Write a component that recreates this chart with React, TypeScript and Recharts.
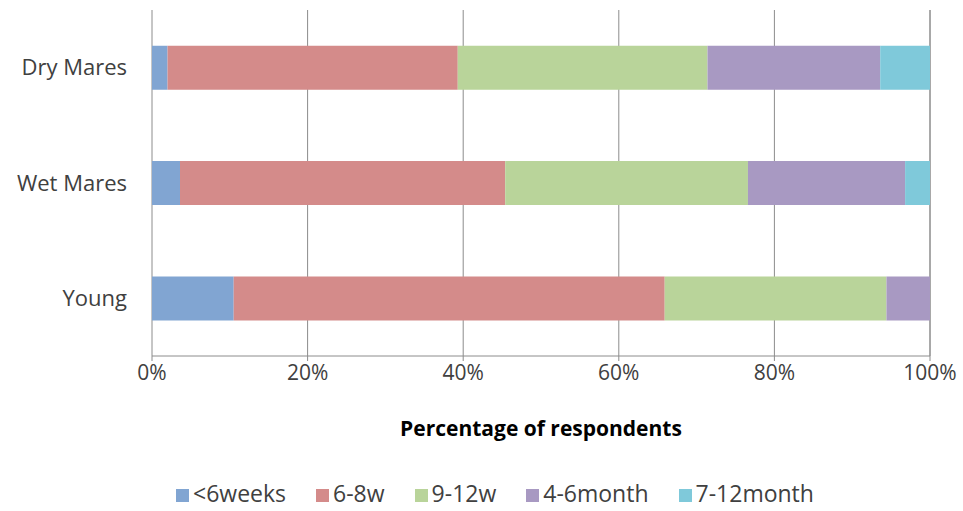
import { BarChart, Bar, XAxis, YAxis, CartesianGrid, Legend, Label } from 'recharts'

// shares per group, in percent
const groups = ['Dry Mares', 'Wet Mares', 'Young']
const under6w = [2.0, 3.6, 10.5]
const w6to8 = [37.3, 41.8, 55.4]
const w9to12 = [32.1, 31.2, 28.5]
const m4to6 = [22.2, 20.2, 5.6]
const m7to12 = [6.4, 3.2, 0]

const seriesNames = ['<6weeks', '6-8w', '9-12w', '4-6month', '7-12month']
const seriesColors = ['#81a5d2', '#d48b8a', '#b9d49a', '#a899c2', '#7fc9da']
const xTicks = [0, 20, 40, 60, 80, 100]
const boundaryTicks = [0, 1, 2, 3]

const data = groups.map((g, i) => ({
  group: g,
  s0: under6w[i],
  s1: w6to8[i],
  s2: w9to12[i],
  s3: m4to6[i],
  s4: m7to12[i],
}))

const font = '"Open Sans", sans-serif'
const axisColor = '#8c8c8c'
const textColor = '#404040'

export default function App() {
  return (
    <div style={{ position: 'absolute', left: 0, top: 0, background: '#fff', fontFamily: font }}>
      <BarChart
        width={963}
        height={511}
        data={data}
        layout="vertical"
        barCategoryGap="31%"
        margin={{ top: 10, right: 33, left: 0, bottom: 2 }}
      >
        <CartesianGrid horizontal={false} stroke={axisColor} />
        <XAxis
          type="number"
          domain={[0, 100]}
          ticks={xTicks}
          tickFormatter={(v: number) => `${v}%`}
          tick={{ fontSize: 21, fill: textColor, fontFamily: font }}
          tickSize={5}
          tickMargin={4}
          axisLine={{ stroke: axisColor }}
          tickLine={{ stroke: axisColor }}
          height={121}
        >
          <Label
            value="Percentage of respondents"
            position="insideTop"
            offset={65}
            style={{ fontSize: 21, fontWeight: 700, fill: '#000', fontFamily: font }}
          />
        </XAxis>
        {/* tick marks between categories, like the original */}
        <YAxis
          yAxisId="marks"
          type="number"
          domain={[0, 3]}
          ticks={boundaryTicks}
          tick={false}
          tickSize={5}
          width={0}
          axisLine={{ stroke: axisColor }}
          tickLine={{ stroke: axisColor }}
        />
        <YAxis
          type="category"
          dataKey="group"
          width={152}
          axisLine={false}
          tickLine={false}
          tickSize={0}
          tickMargin={25}
          tick={{ fontSize: 22, fill: textColor, fontFamily: font }}
        />
        <Legend
          verticalAlign="bottom"
          iconType="square"
          iconSize={13}
          itemSorter={(item: any) => seriesNames.indexOf(item.value)}
          wrapperStyle={{ fontSize: 23, fontFamily: font, paddingLeft: 90, boxSizing: 'border-box' }}
          formatter={(value: string) => <span style={{ color: textColor, marginRight: 20 }}>{value}</span>}
        />
        {seriesNames.map((name, i) => (
          <Bar
            key={name}
            dataKey={`s${i}`}
            name={name}
            stackId="a"
            fill={seriesColors[i]}
            isAnimationActive={false}
          />
        ))}
      </BarChart>
    </div>
  )
}
